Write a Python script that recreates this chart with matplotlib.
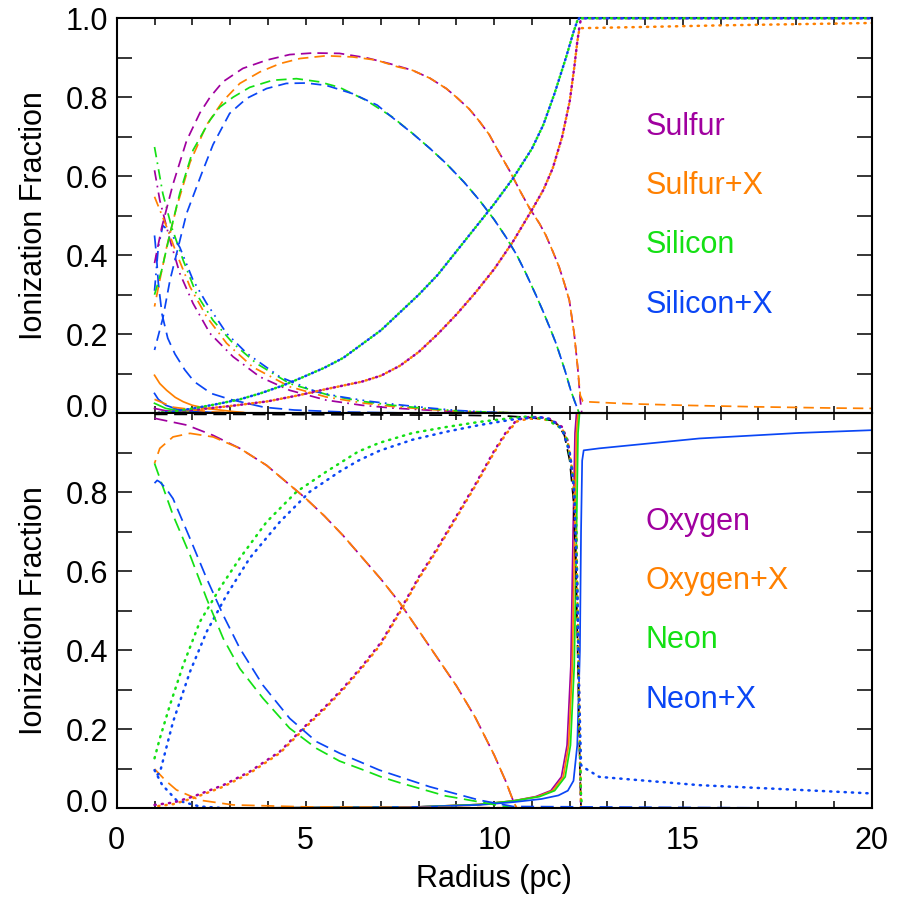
import matplotlib
matplotlib.use('Agg')
import matplotlib.pyplot as plt
from matplotlib.ticker import MultipleLocator, FixedLocator, FormatStrFormatter
import matplotlib.transforms as mtransforms

plt.rcParams['font.family'] = ['Liberation Sans', 'DejaVu Sans']

PURPLE = '#A0009F'
ORANGE = '#FF8000'
GREEN = '#14E014'
BLUE = '#0A46F5'
BLACK = '#000000'

# ---------------- TOP PANEL (Sulfur / Silicon) ----------------
s_dash_x = [1.0, 1.19, 1.49, 1.85, 2.2, 2.47, 2.81, 3.34, 3.97, 4.58, 5.2, 5.9, 6.61, 7.23, 7.84, 8.3, 8.73, 9.0, 9.34, 9.6, 9.87, 10.1, 10.4, 10.7, 10.93, 11.2, 11.37, 11.55, 11.72, 11.87, 11.99, 12.12, 12.21, 12.28, 12.32, 20.0]
s_dash_y = [0.38, 0.47, 0.58, 0.69, 0.76, 0.80, 0.839, 0.873, 0.894, 0.908, 0.912, 0.911, 0.90, 0.885, 0.868, 0.848, 0.822, 0.80, 0.77, 0.74, 0.705, 0.665, 0.615, 0.56, 0.52, 0.48, 0.45, 0.41, 0.37, 0.325, 0.286, 0.20, 0.117, 0.033, 0.0, 0.0]
sx_dash_x = [1.0, 1.14, 1.32, 1.58, 1.94, 2.38, 2.81, 3.26, 3.79, 4.32, 4.85, 5.55, 6.25, 6.88, 7.44, 7.84, 8.3, 8.73, 9.0, 9.34, 9.6, 9.87, 10.1, 10.4, 10.7, 10.93, 11.2, 11.37, 11.55, 11.72, 11.87, 11.99, 12.12, 12.21, 12.28, 12.35, 12.43, 13.5, 15.0, 17.0, 19.0, 20.0]
sx_dash_y = [0.27, 0.337, 0.42, 0.52, 0.635, 0.73, 0.79, 0.835, 0.864, 0.885, 0.898, 0.905, 0.902, 0.894, 0.877, 0.868, 0.848, 0.822, 0.80, 0.77, 0.74, 0.705, 0.665, 0.615, 0.56, 0.52, 0.48, 0.45, 0.41, 0.37, 0.325, 0.286, 0.20, 0.117, 0.045, 0.03, 0.029, 0.024, 0.02, 0.016, 0.013, 0.012]
si_dash_x = [1.0, 1.19, 1.41, 1.67, 2.02, 2.47, 2.73, 3.08, 3.52, 4.13, 4.76, 5.37, 5.9, 6.61, 7.3, 7.84, 8.3, 8.73, 9.2, 9.61, 10.0, 10.31, 10.6, 10.84, 11.1, 11.28, 11.5, 11.64, 11.8, 11.9, 12.02, 12.12, 12.25, 20.0]
si_dash_y = [0.30, 0.362, 0.455, 0.557, 0.666, 0.742, 0.775, 0.80, 0.825, 0.843, 0.847, 0.839, 0.825, 0.792, 0.75, 0.708, 0.67, 0.632, 0.585, 0.539, 0.49, 0.446, 0.40, 0.354, 0.30, 0.261, 0.21, 0.176, 0.13, 0.10, 0.06, 0.033, 0.0, 0.0]
six_dash_x = [1.0, 1.22, 1.41, 1.85, 2.25, 2.55, 2.99, 3.44, 3.97, 4.49, 5.02, 5.55, 6.25, 6.9, 7.31, 7.84, 8.3, 8.73, 9.2, 9.61, 10.0, 10.31, 10.6, 10.84, 11.1, 11.28, 11.5, 11.64, 11.8, 11.9, 12.02, 12.12, 12.25, 20.0]
six_dash_y = [0.16, 0.24, 0.337, 0.506, 0.607, 0.68, 0.759, 0.797, 0.822, 0.835, 0.836, 0.830, 0.809, 0.78, 0.748, 0.708, 0.67, 0.632, 0.585, 0.539, 0.49, 0.446, 0.40, 0.354, 0.30, 0.261, 0.21, 0.176, 0.13, 0.10, 0.06, 0.033, 0.0, 0.0]

s_dot_x = [1.0, 2.0, 3.0, 4.0, 4.8, 5.5, 6.0, 6.5, 7.0, 7.5, 8.0, 8.5, 9.0, 9.5, 10.0, 10.5, 11.0, 11.3, 11.55, 11.8, 12.0, 12.12, 12.2, 12.26, 12.3, 20.0]
s_dot_y = [0.0, 0.008, 0.018, 0.03, 0.045, 0.06, 0.07, 0.08, 0.095, 0.12, 0.155, 0.20, 0.25, 0.305, 0.365, 0.435, 0.515, 0.565, 0.62, 0.70, 0.79, 0.875, 0.94, 0.98, 1.0, 1.0]
sx_dot_x = [1.0, 2.0, 3.0, 4.0, 4.8, 5.5, 6.0, 6.5, 7.0, 7.5, 8.0, 8.5, 9.0, 9.5, 10.0, 10.5, 11.0, 11.3, 11.55, 11.8, 12.0, 12.12, 12.2, 12.26, 12.33, 14.0, 16.0, 18.0, 20.0]
sx_dot_y = [0.0, 0.008, 0.018, 0.03, 0.045, 0.06, 0.07, 0.08, 0.095, 0.12, 0.155, 0.20, 0.25, 0.305, 0.365, 0.435, 0.515, 0.565, 0.62, 0.70, 0.79, 0.875, 0.94, 0.975, 0.975, 0.978, 0.982, 0.985, 0.988]
si_dot_x = [1.0, 1.5, 2.02, 2.6, 3.26, 3.8, 4.4, 4.9, 5.5, 6.0, 6.5, 7.0, 7.5, 8.0, 8.5, 9.0, 9.5, 10.0, 10.5, 11.0, 11.3, 11.6, 11.9, 12.1, 12.2, 12.25, 20.0]
si_dot_y = [0.0, 0.004, 0.012, 0.022, 0.035, 0.05, 0.07, 0.09, 0.115, 0.14, 0.175, 0.21, 0.255, 0.30, 0.35, 0.41, 0.47, 0.53, 0.595, 0.67, 0.73, 0.81, 0.90, 0.965, 0.993, 1.0, 1.0]

s_dashdot_x = [1.0, 1.14, 1.41, 1.67, 2.02, 2.47, 3.08, 3.79, 4.58, 5.55, 6.5, 7.3, 8.2, 9.0, 10.0, 11.0, 20.0]
s_dashdot_y = [0.615, 0.539, 0.438, 0.354, 0.278, 0.202, 0.143, 0.092, 0.058, 0.033, 0.02, 0.013, 0.008, 0.004, 0.001, 0.0, 0.0]
sx_dashdot_x = [1.0, 1.32, 1.58, 1.94, 2.38, 2.91, 3.6, 4.58, 5.55, 6.5, 7.3, 8.2, 9.0, 10.0, 11.0, 20.0]
sx_dashdot_y = [0.548, 0.472, 0.405, 0.32, 0.244, 0.177, 0.117, 0.067, 0.041, 0.026, 0.017, 0.01, 0.005, 0.002, 0.0, 0.0]
si_dashdot_x = [1.0, 1.22, 1.45, 1.76, 2.11, 2.55, 3.08, 3.7, 4.58, 5.64, 6.5, 7.31, 8.2, 9.0, 10.0, 11.0, 20.0]
si_dashdot_y = [0.674, 0.556, 0.472, 0.387, 0.302, 0.235, 0.177, 0.126, 0.075, 0.045, 0.03, 0.02, 0.012, 0.006, 0.002, 0.0, 0.0]
six_dashdot_x = [1.0, 1.1, 1.22, 1.4, 1.67, 2.02, 2.38, 2.91, 3.44, 4.32, 5.29, 5.9, 6.7, 7.5, 8.3, 9.0, 10.0, 11.0, 20.0]
six_dashdot_y = [0.31, 0.42, 0.475, 0.46, 0.42, 0.337, 0.278, 0.202, 0.152, 0.092, 0.054, 0.042, 0.03, 0.021, 0.013, 0.007, 0.002, 0.0, 0.0]

six_ldash_x = [1.0, 1.05, 1.1, 1.2, 1.35, 1.54, 1.8, 2.05, 2.5, 3.0, 3.9, 4.7, 6.0, 8.0, 20.0]
six_ldash_y = [0.45, 0.40, 0.33, 0.25, 0.19, 0.15, 0.11, 0.08, 0.05, 0.035, 0.015, 0.008, 0.003, 0.0, 0.0]
sx_ldash_x = [1.0, 1.5, 2.5, 4.0, 20.0]
sx_ldash_y = [0.035, 0.015, 0.003, 0.0, 0.0]

s_solid_x = [1.0, 1.3, 2.0, 3.0, 20.0]
s_solid_y = [0.012, 0.006, 0.001, 0.0, 0.0]
sx_solid_x = [1.0, 1.14, 1.32, 1.55, 1.76, 2.0, 2.38, 3.0, 3.5, 20.0]
sx_solid_y = [0.096, 0.075, 0.058, 0.04, 0.029, 0.02, 0.012, 0.005, 0.0, 0.0]
si_solid_x = [1.0, 1.3, 1.8, 2.5, 20.0]
si_solid_y = [0.025, 0.012, 0.004, 0.0, 0.0]
six_solid_x = [1.0, 1.1, 1.3, 1.6, 2.0, 2.5, 3.0, 20.0]
six_solid_y = [0.05, 0.035, 0.02, 0.01, 0.005, 0.002, 0.0, 0.0]

# ---------------- BOTTOM PANEL (Oxygen / Neon) ----------------
o_dash_x = [1.0, 1.85, 2.55, 3.26, 3.97, 4.49, 5.0, 5.5, 6.0, 6.5, 7.0, 7.5, 8.0, 8.5, 9.0, 9.5, 10.0, 10.3, 10.5, 10.6, 20.0]
o_dash_y = [0.987, 0.97, 0.944, 0.911, 0.868, 0.826, 0.785, 0.74, 0.69, 0.635, 0.58, 0.52, 0.45, 0.38, 0.31, 0.23, 0.135, 0.07, 0.02, 0.0, 0.0]
ox_dash_x = [1.0, 1.14, 1.49, 1.94, 2.55, 3.26, 3.97, 4.49, 5.0, 5.5, 6.0, 6.5, 7.0, 7.5, 8.0, 8.5, 9.0, 9.5, 10.0, 10.3, 10.5, 10.6, 20.0]
ox_dash_y = [0.873, 0.911, 0.94, 0.949, 0.94, 0.911, 0.868, 0.826, 0.785, 0.74, 0.69, 0.635, 0.58, 0.52, 0.45, 0.38, 0.31, 0.23, 0.135, 0.07, 0.02, 0.0, 0.0]
ne_dash_x = [1.0, 1.49, 1.94, 2.38, 2.82, 3.26, 3.87, 4.58, 5.29, 5.9, 6.6, 7.0, 7.5, 8.7, 10.05, 10.6, 20.0]
ne_dash_y = [0.873, 0.742, 0.641, 0.531, 0.43, 0.354, 0.279, 0.203, 0.152, 0.12, 0.095, 0.08, 0.065, 0.032, 0.009, 0.0, 0.0]
nex_dash_x = [1.0, 1.07, 1.14, 1.3, 1.49, 1.94, 2.38, 2.82, 3.26, 3.87, 4.58, 5.29, 5.9, 6.96, 8.29, 9.61, 10.5, 20.0]
nex_dash_y = [0.823, 0.83, 0.826, 0.81, 0.784, 0.683, 0.582, 0.489, 0.405, 0.312, 0.228, 0.169, 0.14, 0.097, 0.055, 0.021, 0.005, 0.0]
ox_dash2_x = [1.0, 1.3, 1.58, 2.2, 3.08, 5.0, 10.0, 20.0]
ox_dash2_y = [0.10, 0.07, 0.047, 0.021, 0.009, 0.004, 0.002, 0.0]

o_dot_x = [1.0, 1.5, 2.02, 2.82, 3.52, 4.32, 5.02, 5.5, 6.0, 6.5, 7.0, 7.5, 8.0, 8.5, 9.0, 9.5, 10.0, 10.3, 10.6, 10.9, 11.2, 11.5, 11.8, 11.95, 12.08, 12.17, 12.22, 12.27, 12.3, 20.0]
o_dot_y = [0.009, 0.015, 0.03, 0.059, 0.093, 0.144, 0.211, 0.255, 0.305, 0.36, 0.42, 0.50, 0.585, 0.66, 0.74, 0.82, 0.905, 0.95, 0.983, 0.99, 0.99, 0.985, 0.965, 0.93, 0.85, 0.70, 0.45, 0.15, 0.0, 0.0]
ne_dot_x = [1.0, 1.14, 1.41, 1.76, 2.2, 2.73, 3.26, 3.97, 4.76, 5.55, 5.9, 6.4, 6.96, 7.84, 8.73, 9.61, 10.49, 10.93, 11.37, 11.72, 11.9, 12.08, 12.17, 12.21, 12.25, 12.3, 12.33, 20.0]
ne_dot_y = [0.127, 0.177, 0.262, 0.363, 0.472, 0.557, 0.633, 0.725, 0.801, 0.852, 0.873, 0.903, 0.925, 0.95, 0.965, 0.978, 0.988, 0.992, 0.985, 0.965, 0.944, 0.848, 0.747, 0.494, 0.242, 0.03, 0.0, 0.0]
nex_dot_x = [1.0, 1.14, 1.49, 1.94, 2.38, 2.91, 3.52, 4.32, 5.11, 5.9, 6.4, 6.96, 7.84, 8.73, 9.61, 10.49, 11.19, 11.5, 11.8, 12.0, 12.12, 12.2, 12.25, 12.3, 12.35, 12.78, 15.43, 18.07, 20.0]
nex_dot_y = [0.08, 0.09, 0.219, 0.346, 0.447, 0.54, 0.633, 0.725, 0.801, 0.852, 0.88, 0.905, 0.933, 0.953, 0.97, 0.984, 0.99, 0.985, 0.96, 0.90, 0.80, 0.55, 0.30, 0.11, 0.105, 0.08, 0.059, 0.047, 0.038]
nex_dot2_x = [1.0, 1.2, 1.58, 2.2, 3.0, 20.0]
nex_dot2_y = [0.097, 0.06, 0.021, 0.005, 0.0, 0.0]

h_dash_x = [1.0, 3.0, 6.0, 9.0, 10.3, 10.8, 11.2, 11.5, 11.7, 11.86, 12.0, 12.1, 12.17, 12.22, 12.27, 12.3, 20.0]
h_dash_y = [0.997, 0.997, 0.996, 0.995, 0.993, 0.99, 0.986, 0.982, 0.97, 0.944, 0.88, 0.78, 0.6, 0.35, 0.1, 0.0, 0.0]

o_solid_x = [1.0, 5.0, 8.0, 9.6, 10.5, 11.1, 11.5, 11.78, 11.93, 12.03, 12.09, 12.14, 12.18, 20.0]
o_solid_y = [0.0, 0.002, 0.004, 0.01, 0.019, 0.03, 0.045, 0.08, 0.16, 0.36, 0.70, 0.95, 1.0, 1.0]
ox_solid_x = [1.0, 5.0, 8.0, 9.6, 10.5, 11.15, 11.55, 11.83, 11.97, 12.07, 12.13, 12.18, 12.22, 20.0]
ox_solid_y = [0.0, 0.002, 0.004, 0.01, 0.019, 0.03, 0.045, 0.08, 0.16, 0.36, 0.70, 0.95, 1.0, 1.0]
ne_solid_x = [1.0, 5.0, 8.0, 9.6, 10.5, 11.2, 11.6, 11.88, 12.02, 12.12, 12.18, 12.22, 12.26, 20.0]
ne_solid_y = [0.0, 0.002, 0.004, 0.01, 0.019, 0.03, 0.045, 0.08, 0.16, 0.36, 0.70, 0.95, 1.0, 1.0]
nex_solid_x = [1.0, 5.0, 8.0, 9.6, 10.5, 11.25, 11.7, 11.95, 12.1, 12.2, 12.27, 12.3, 12.33, 12.37, 12.78, 15.43, 18.07, 20.0]
nex_solid_y = [0.0, 0.002, 0.004, 0.009, 0.016, 0.024, 0.033, 0.045, 0.07, 0.16, 0.40, 0.70, 0.88, 0.906, 0.911, 0.936, 0.95, 0.957]

top_labels = ['Sulfur', 'Sulfur+X', 'Silicon', 'Silicon+X']
bottom_labels = ['Oxygen', 'Oxygen+X', 'Neon', 'Neon+X']
label_colors = [PURPLE, ORANGE, GREEN, BLUE]
label_y = [0.725, 0.575, 0.425, 0.275]

# ---------------- styles ----------------
DASH = (0, (6, 3.5))
LDASH = (0, (7.5, 3.8))
DOT = (0, (0.5, 2.4))
DOT_B = (1.4, (0.5, 2.4))
DASHDOT = (0, (6, 3, 1, 3))
DASHDOT3 = (0, (6, 3, 1, 3, 1, 3))
LW = 1.25

fig = plt.figure(figsize=(8.99, 8.99), dpi=100)
ax1 = fig.add_axes([0.1299, 0.5404, 0.8397, 0.4393])
ax2 = fig.add_axes([0.1299, 0.1007, 0.8397, 0.4397])


def draw(ax, x, y, color, ls, lw=LW, unclip=False):
    if isinstance(ls, tuple) and ls[1][0] < 1:
        ln, = ax.plot(x, y, color=color, linestyle=ls, lw=1.8, dash_capstyle='round')
    else:
        ln, = ax.plot(x, y, color=color, linestyle=ls, lw=lw, dash_capstyle='butt')
    if unclip:
        ln.set_clip_on(False)
        ln.set_zorder(3)


# top panel
draw(ax1, s_solid_x, s_solid_y, PURPLE, '-')
draw(ax1, sx_solid_x, sx_solid_y, ORANGE, '-')
draw(ax1, si_solid_x, si_solid_y, GREEN, '-')
draw(ax1, six_solid_x, six_solid_y, BLUE, '-')
draw(ax1, sx_ldash_x, sx_ldash_y, ORANGE, LDASH)
draw(ax1, six_ldash_x, six_ldash_y, BLUE, LDASH)
draw(ax1, s_dashdot_x, s_dashdot_y, PURPLE, DASHDOT)
draw(ax1, sx_dashdot_x, sx_dashdot_y, ORANGE, DASHDOT)
draw(ax1, si_dashdot_x, si_dashdot_y, GREEN, DASHDOT)
draw(ax1, six_dashdot_x, six_dashdot_y, BLUE, DASHDOT3)
draw(ax1, s_dot_x, s_dot_y, PURPLE, DOT, unclip=True)
draw(ax1, sx_dot_x, sx_dot_y, ORANGE, DOT_B)
draw(ax1, si_dot_x, si_dot_y, GREEN, DOT, unclip=True)
draw(ax1, si_dot_x, si_dot_y, BLUE, DOT_B, unclip=True)
draw(ax1, s_dash_x, s_dash_y, PURPLE, DASH)
draw(ax1, sx_dash_x, sx_dash_y, ORANGE, (4, (6, 3.5)))
draw(ax1, si_dash_x, si_dash_y, GREEN, DASH)
draw(ax1, six_dash_x, six_dash_y, BLUE, (4, (6, 3.5)))

# bottom panel
draw(ax2, o_solid_x, o_solid_y, PURPLE, '-')
draw(ax2, ox_solid_x, ox_solid_y, ORANGE, '-')
draw(ax2, ne_solid_x, ne_solid_y, GREEN, '-')
draw(ax2, nex_solid_x, nex_solid_y, BLUE, '-')
draw(ax2, h_dash_x, h_dash_y, BLACK, LDASH)
draw(ax2, ox_dash2_x, ox_dash2_y, ORANGE, LDASH)
draw(ax2, nex_dot2_x, nex_dot2_y, BLUE, DOT)
draw(ax2, o_dot_x, o_dot_y, PURPLE, DOT)
draw(ax2, o_dot_x, [v - 0.004 for v in o_dot_y], ORANGE, DOT_B)
draw(ax2, ne_dot_x, ne_dot_y, GREEN, DOT)
draw(ax2, nex_dot_x, nex_dot_y, BLUE, DOT_B)
draw(ax2, o_dash_x, o_dash_y, PURPLE, LDASH)
draw(ax2, ox_dash_x, ox_dash_y, ORANGE, (5.5, (7.5, 3.8)))
draw(ax2, ne_dash_x, ne_dash_y, GREEN, LDASH)
draw(ax2, nex_dash_x, nex_dash_y, BLUE, LDASH)

for lab, col, yy in zip(top_labels, label_colors, label_y):
    ax1.text(14.0, yy, lab, color=col, fontsize=22, ha='left', va='center')
for lab, col, yy in zip(bottom_labels, label_colors, label_y):
    ax2.text(14.0, yy, lab, color=col, fontsize=22, ha='left', va='center')

for ax in (ax1, ax2):
    ax.set_xlim(0, 20)
    ax.set_ylim(0, 1)
    ax.xaxis.set_major_locator(MultipleLocator(5))
    ax.xaxis.set_minor_locator(MultipleLocator(1))
    ax.tick_params(axis='x', which='both', direction='in', top=True, bottom=True,
                   length=5, width=1.1, labelsize=22, pad=12.5)
    ax.tick_params(axis='y', which='both', direction='in', left=True, right=True,
                   length=10.8, width=1.1, labelsize=22, pad=6)
    ax.yaxis.set_major_formatter(FormatStrFormatter('%.1f'))
    for sp in ax.spines.values():
        sp.set_linewidth(1.5)
        sp.set_zorder(2.5)
    ax.set_ylabel('Ionization Fraction', fontsize=22)
    ax.yaxis.set_label_coords(-0.09, 0.5)

ax1.yaxis.set_major_locator(MultipleLocator(0.2))
ax1.yaxis.set_minor_locator(MultipleLocator(0.1))
ax1.tick_params(axis='x', labelbottom=False)
ax2.yaxis.set_major_locator(FixedLocator([0.0, 0.2, 0.4, 0.6, 0.8]))
ax2.yaxis.set_minor_locator(FixedLocator([0.1, 0.3, 0.5, 0.7, 0.9]))
ax2.xaxis.set_major_formatter(FormatStrFormatter('%d'))
ax2.set_xlabel('Radius (pc)', fontsize=22, labelpad=6)

# raise the "0.0" labels slightly, as in the original
fig.canvas.draw()
shift = mtransforms.ScaledTranslation(0, 8 / 100, fig.dpi_scale_trans)
for ax in (ax1, ax2):
    for lab in ax.get_yticklabels():
        if lab.get_text() == '0.0':
            lab.set_transform(lab.get_transform() + shift)

fig.savefig('out.png', dpi=100)
